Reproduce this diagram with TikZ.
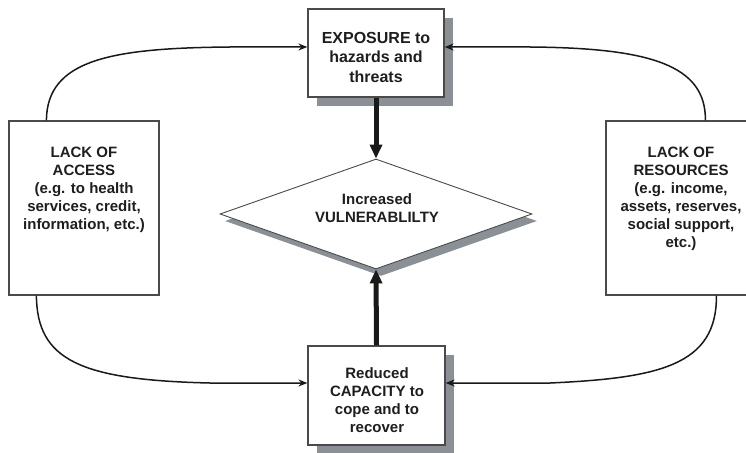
\documentclass[tikz,border=0pt]{standalone}
\usepackage{fontspec}
\setmainfont{Liberation Sans}
\usetikzlibrary{arrows.meta,shapes.geometric,shadows}
\definecolor{shade}{HTML}{8A9096}
\definecolor{edge}{HTML}{4A4A4A}
\definecolor{ink}{HTML}{1E1E1E}
\begin{document}
\begin{tikzpicture}[x=1pt,y=-1pt,
  box/.style={draw=edge, line width=1.2pt, fill=white, inner sep=0pt},
  shadowbox/.style={box, drop shadow={shadow xshift=9pt, shadow yshift=-9pt, fill=shade, opacity=1}},
  txt/.style={font=\bfseries\fontsize{15}{18}\selectfont, text=ink, align=center},
  bigtxt/.style={font=\bfseries\fontsize{16}{19.5}\selectfont, text=ink, align=center},
  link/.style={line width=1.5pt, draw=black!90, -{Stealth[length=9pt,width=7pt]}},
  bigarrow/.style={line width=5pt, draw=black!90, -{Triangle[length=14pt,width=12pt]}}
]
\useasboundingbox (0,0) rectangle (746,452);

% boxes
\node[shadowbox, minimum width=136pt, minimum height=88pt] (T) at (376,53) {};
\node[bigtxt] (TT) at (376,57) {EXPOSURE to\\hazards and\\threats};
\node[shadowbox, minimum width=137pt, minimum height=99pt] (B) at (376.5,395.5) {};
\node[txt] (BT) at (377,400) {Reduced\\CAPACITY to\\cope and to\\recover};
\node[box, minimum width=150pt, minimum height=174pt] (L) at (84,208) {};
\node[txt] (LT) at (84,190) {LACK OF\\ACCESS\\(e.g. to health\\services, credit,\\information, etc.)};
\node[box, minimum width=151pt, minimum height=174pt] (R) at (681.5,208) {};
\node[txt] (RT) at (681,199) {LACK OF\\RESOURCES\\(e.g. income,\\assets, reserves,\\social support,\\etc.)};

% diamond
\node[diamond, draw=edge, line width=0.9pt, fill=white, aspect=2.8, inner sep=0pt,
      minimum width=312pt, minimum height=110pt,
      drop shadow={shadow xshift=5pt, shadow yshift=-7pt, fill=shade, opacity=1}] (D) at (376,214) {};
\node[txt] (DT) at (377,208) {Increased\\VULNERABLILTY};

% thick arrows
\draw[bigarrow] (T.south) -- (D.north);
\draw[bigarrow] (B.north) -- (D.south);

% curved connectors
\draw[link] ([xshift=38pt]L.north west) .. controls (47,60) and (110,48) .. (230,47) -- ([yshift=6pt]T.west);
\draw[link] ([xshift=100pt]R.north west) .. controls (706,65) and (650,48) .. (530,47) -- ([yshift=6pt]T.east);
\draw[link] ([xshift=28pt]L.south west) .. controls (37,360) and (80,380) .. (210,383) -- ([yshift=12.5pt]B.west);
\draw[link] ([xshift=111pt]R.south west) .. controls (717,365) and (660,378) .. (550,383) -- ([yshift=12.5pt]B.east);
\end{tikzpicture}
\end{document}
